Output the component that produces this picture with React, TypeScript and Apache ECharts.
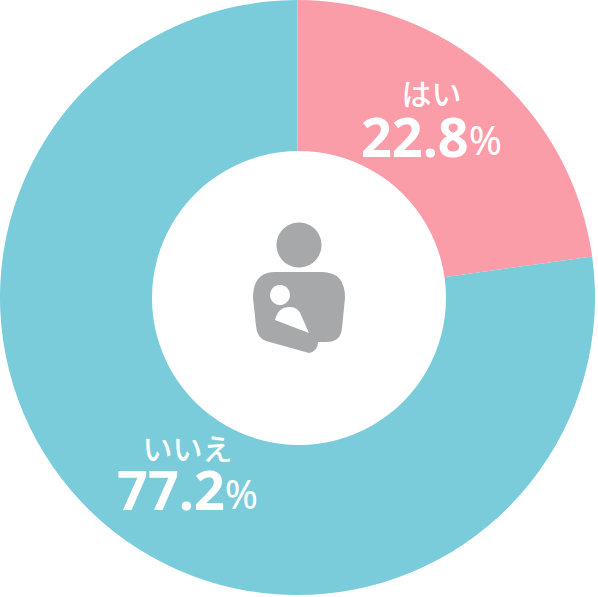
import React, { useEffect, useRef } from "react";
import * as echarts from "echarts";

const categories = ["はい", "いいえ"];
const values = [22.8, 77.2];
const colors = ["#fa9da8", "#7bccdb"];
const labelOffsets = [[-13, -11], [37, 7]];
const nameLineHeights = [36, 32];

const bodyPath =
  "M275 272 L322 272 Q345 272 345 298 L342 328 Q341 342 326 342 L318 342 Q318 351 309 353 L266 341 Q257 338 256 326 L253 298 Q253 272 275 272 Z";
const babyPath = "M275 320 Q278 307 290 307 Q298 307 301 315 L309 333 Z";

export default function App() {
  const ref = useRef<HTMLDivElement>(null);
  useEffect(() => {
    document.body.style.margin = "0";
    echarts.graphic.registerShape("momBody", echarts.graphic.extendPath(bodyPath, {}) as any);
    echarts.graphic.registerShape("babyBody", echarts.graphic.extendPath(babyPath, {}) as any);
    const chart = echarts.init(ref.current!, undefined, { renderer: "svg" });
    const font = "'Noto Sans CJK JP', 'Noto Sans', sans-serif";
    chart.setOption({
      animation: false,
      backgroundColor: "#ffffff",
      series: [
        {
          type: "pie",
          center: [297.5, 297.5],
          radius: [144, 297.5],
          startAngle: 90,
          clockwise: true,
          silent: true,
          labelLine: { show: false },
          data: categories.map((name, i) => ({
            name,
            value: values[i],
            itemStyle: { color: colors[i] },
            label: {
              show: true,
              position: "inside",
              offset: labelOffsets[i],
              formatter: `{n|${name}}\n{v|${values[i]}}{p|%}`,
              rich: {
                n: { fontFamily: font, fontSize: 30, fontWeight: 500, color: "#fff", lineHeight: nameLineHeights[i], align: "center" },
                v: { fontFamily: "'Noto Sans', sans-serif", fontSize: 54, fontWeight: 700, color: "#fff", lineHeight: 52 },
                p: { fontFamily: "'Noto Sans', sans-serif", fontSize: 40, fontWeight: 400, color: "#fff", lineHeight: 52, padding: [8, 0, 0, 0] },
              },
            },
          })),
        },
      ],
      graphic: [
        { type: "circle", z: 100, shape: { cx: 299, cy: 298, r: 147 }, style: { fill: "#fff" } },
        { type: "circle", z: 101, shape: { cx: 299, cy: 245, r: 22.5 }, style: { fill: "#a6a8aa" } },
        { type: "momBody", z: 101, style: { fill: "#a6a8aa" } },
        { type: "circle", z: 102, shape: { cx: 280, cy: 295, r: 10 }, style: { fill: "#fff" } },
        { type: "babyBody", z: 102, style: { fill: "#fff" } },
      ],
    });
    return () => chart.dispose();
  }, []);
  return <div ref={ref} style={{ width: 598, height: 597 }} />;
}
